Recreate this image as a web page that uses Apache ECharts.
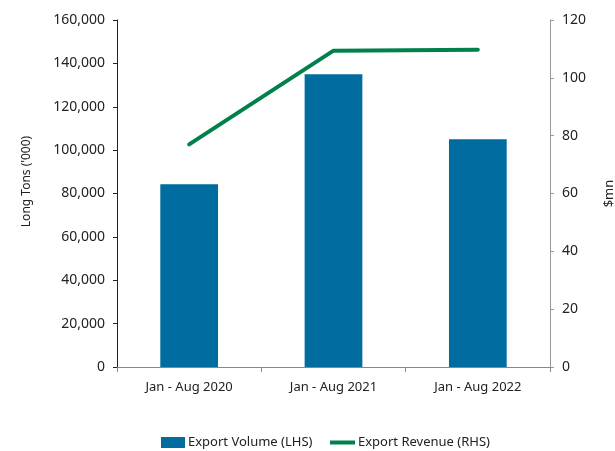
<!DOCTYPE html>
<html>
<head>
<meta charset="utf-8">
<script src="https://cdn.jsdelivr.net/npm/echarts@6/dist/echarts.min.js"></script>
<style>
  html, body { margin: 0; padding: 0; background: #fff; }
  #main { width: 615px; height: 451px; }
</style>
</head>
<body>
<div id="main"></div>
<script>
// data
var categories = ['Jan - Aug 2020', 'Jan - Aug 2021', 'Jan - Aug 2022'];
var exportVolume = [84300, 135000, 105000];   // long tons ('000), LHS
var exportRevenue = [77, 109.4, 109.7];       // $mn, RHS

(function () {
    var myChart = echarts.init(document.getElementById('main'));
    var font = 'Noto Sans';
    var legendText = { color: '#222', fontSize: 13, fontFamily: font, padding: [0, 0, 0, -2] };

    var option = {
        animation: false,
        textStyle: { fontFamily: font },
        grid: { left: 117, right: 65, top: 20, bottom: 84, outerBoundsMode: 'none' },
        legend: [
            {
                left: 161,
                top: 436,
                padding: 0,
                itemWidth: 24,
                itemHeight: 11,
                textStyle: legendText,
                data: [{ name: 'Export Volume (LHS)', icon: 'rect' }]
            },
            {
                left: 330,
                top: 436,
                padding: 0,
                itemWidth: 25,
                itemHeight: 11,
                symbolKeepAspect: true,
                textStyle: legendText,
                data: [{ name: 'Export Revenue (RHS)', icon: 'path://M0,0h25v4h-25z' }]
            }
        ],
        xAxis: {
            type: 'category',
            data: categories,
            axisLine: { lineStyle: { color: '#888', width: 1 } },
            axisTick: { show: true, length: 5, lineStyle: { color: '#888' } },
            axisLabel: { color: '#222', fontSize: 13, margin: 14 }
        },
        yAxis: [
            {
                type: 'value',
                min: 0,
                max: 160000,
                interval: 20000,
                name: "Long Tons ('000)",
                nameLocation: 'middle',
                nameGap: 84,
                nameRotate: 90,
                nameMoveOverlap: false,
                nameTextStyle: { color: '#222', fontSize: 12, padding: [0, 0, 0, 24] },
                axisLine: { show: true, lineStyle: { color: '#222' } },
                axisTick: { show: true, length: 4, lineStyle: { color: '#222' } },
                axisLabel: {
                    color: '#222', fontSize: 14, margin: 12,
                    formatter: function (v) { return v.toLocaleString('en-US'); }
                },
                splitLine: { show: false }
            },
            {
                type: 'value',
                min: 0,
                max: 120,
                interval: 20,
                position: 'right',
                name: '$mn',
                nameLocation: 'middle',
                nameGap: 53,
                nameRotate: 90,
                nameMoveOverlap: false,
                nameTextStyle: { color: '#222', fontSize: 13 },
                axisLine: { show: true, lineStyle: { color: '#999' } },
                axisTick: { show: true, length: 4, lineStyle: { color: '#999' } },
                axisLabel: { color: '#222', fontSize: 14, margin: 12 },
                splitLine: { show: false }
            }
        ],
        series: [
            {
                name: 'Export Volume (LHS)',
                type: 'bar',
                data: exportVolume,
                barWidth: '40%',
                itemStyle: { color: '#006ca0' }
            },
            {
                name: 'Export Revenue (RHS)',
                type: 'line',
                yAxisIndex: 1,
                data: exportRevenue,
                symbol: 'none',
                lineStyle: { color: '#00804a', width: 4, cap: 'round' },
                itemStyle: { color: '#00804a' }
            }
        ]
    };

    myChart.setOption(option);
    window.addEventListener('resize', function () {
        myChart.resize();
    });
})();
</script>
</body>
</html>
